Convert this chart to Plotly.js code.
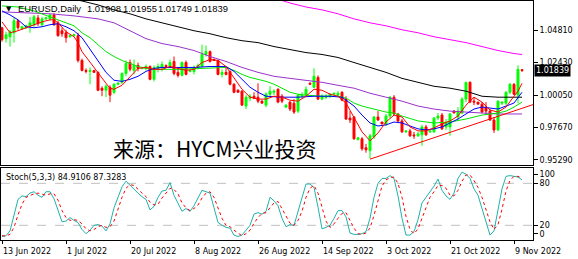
<!DOCTYPE html>
<html>
<head>
<meta charset="utf-8">
<script src="https://cdn.plot.ly/plotly-3.0.1.min.js"></script>
<style>html,body{margin:0;padding:0;background:#fff;}#chart{width:578px;height:259px;}</style>
</head>
<body>
<div id="chart"></div>
<script>
// ---- Daily candles (EURUSD), one per trading bar incl. Sunday bars ----
const open = [1.0498,1.0418,1.0432,1.0461,1.0549,1.0490,1.0498,1.0512,1.0520,1.0570,
1.0520,1.0563,1.0563,1.0592,1.0534,1.0476,1.0461,1.0432,1.0440,1.0440,
1.0258,1.0185,1.0178,1.0185,1.0171,1.0054,1.0040,1.0062,1.0025,1.0084,
1.0098,1.0163,1.0243,1.0185,1.0222,1.0200,1.0200,1.0214,1.0120,1.0200,
1.0207,1.0222,1.0214,1.0251,1.0171,1.0149,1.0243,1.0178,1.0178,1.0207,
1.0214,1.0302,1.0323,1.0265,1.0258,1.0156,1.0171,1.0178,1.0084,1.0040,
1.0033,0.9924,0.9982,0.9996,0.9989,0.9960,0.9931,1.0011,1.0025,1.0047,
0.9996,0.9916,0.9953,0.9945,0.9887,0.9996,1.0004,1.0091,1.0062,1.0134,
0.9975,0.9989,0.9996,1.0011,1.0004,1.0025,0.9975,0.9836,0.9844,0.9677,
0.9684,0.9618,0.9597,0.9698,0.9844,0.9807,0.9793,0.9851,0.9989,0.9866,
0.9815,0.9735,0.9742,0.9713,0.9706,0.9713,0.9771,0.9735,0.9735,0.9836,
0.9858,0.9771,0.9771,0.9887,0.9844,0.9873,0.9975,1.0098,0.9960,0.9953,
0.9938,0.9916,0.9887,0.9822,0.9749,0.9945,0.9945,1.0025,1.0084,1.0004,
1.01908];
const high = [1.0505,1.0469,1.0483,1.0570,1.0556,1.0512,1.0520,1.0578,1.0592,1.0592,
1.0578,1.0578,1.0599,1.0607,1.0549,1.0498,1.0483,1.0447,1.0454,1.0461,
1.0272,1.0200,1.0207,1.0188,1.0178,1.0069,1.0084,1.0076,1.0091,1.0098,
1.0171,1.0258,1.0265,1.0265,1.0243,1.0207,1.0229,1.0222,1.0222,1.0236,
1.0251,1.0229,1.0265,1.0287,1.0207,1.0251,1.0258,1.0193,1.0222,1.0236,
1.0374,1.0367,1.0331,1.0272,1.0265,1.0193,1.0207,1.0185,1.0091,1.0047,
1.0040,1.0004,1.0011,1.0025,1.0091,0.9967,1.0025,1.0069,1.0047,1.0054,
1.0011,0.9938,0.9960,0.9975,1.0011,1.0025,1.0069,1.0098,1.0200,1.0149,
1.0011,1.0011,1.0018,1.0018,1.0033,1.0033,0.9996,0.9887,0.9851,0.9698,
0.9698,0.9647,0.9720,0.9851,0.9887,0.9807,0.9866,0.9996,1.0004,0.9873,
0.9829,0.9742,0.9757,0.9735,0.9735,0.9786,0.9786,0.9742,0.9844,0.9873,
0.9873,0.9829,0.9873,0.9895,0.9916,0.9989,1.0098,1.0105,0.9989,0.9953,
0.9953,0.9953,0.9902,0.9844,0.9967,0.9953,1.0033,1.0091,1.0091,1.0222,
1.01955];
const low = [1.0396,1.0389,1.0360,1.0389,1.0483,1.0483,1.0490,1.0461,1.0505,1.0512,
1.0505,1.0556,1.0549,1.0512,1.0432,1.0432,1.0389,1.0425,1.0432,1.0243,
1.0178,1.0163,1.0084,1.0171,1.0033,0.9996,0.9989,0.9953,1.0011,1.0076,
1.0084,1.0142,1.0178,1.0156,1.0178,1.0193,1.0185,1.0113,1.0105,1.0171,
1.0178,1.0207,1.0207,1.0149,1.0134,1.0142,1.0149,1.0171,1.0156,1.0193,
1.0207,1.0287,1.0243,1.0258,1.0149,1.0134,1.0149,1.0076,1.0018,1.0025,
0.9924,0.9902,0.9960,0.9975,0.9945,0.9945,0.9916,0.9996,1.0004,0.9945,
0.9945,0.9909,0.9887,0.9866,0.9873,0.9982,0.9996,1.0084,1.0054,0.9967,
0.9967,0.9975,0.9982,1.0004,0.9996,0.9960,0.9822,0.9800,0.9677,0.9677,
0.9597,0.9582,0.9538,0.9684,0.9815,0.9793,0.9778,0.9836,0.9858,0.9800,
0.9727,0.9727,0.9698,0.9684,0.9698,0.9633,0.9706,0.9727,0.9727,0.9822,
0.9749,0.9749,0.9706,0.9873,0.9822,0.9866,0.9953,0.9945,0.9931,0.9938,
0.9873,0.9858,0.9815,0.9727,0.9742,0.9931,0.9931,1.0011,1.0004,0.9945,
1.01749];
const close = [1.0411,1.0447,1.0469,1.0549,1.0498,1.0505,1.0512,1.0534,1.0578,1.0527,
1.0563,1.0570,1.0592,1.0520,1.0440,1.0454,1.0425,1.0440,1.0447,1.0258,
1.0185,1.0178,1.0185,1.0171,1.0040,1.0040,1.0069,1.0004,1.0084,1.0091,
1.0163,1.0236,1.0193,1.0222,1.0200,1.0207,1.0214,1.0120,1.0207,1.0214,
1.0229,1.0214,1.0243,1.0163,1.0149,1.0243,1.0156,1.0185,1.0207,1.0222,
1.0302,1.0323,1.0251,1.0258,1.0156,1.0171,1.0156,1.0084,1.0025,1.0025,
0.9931,0.9989,0.9996,0.9982,0.9960,0.9945,1.0011,1.0033,1.0033,0.9953,
0.9960,0.9931,0.9902,0.9880,1.0004,1.0004,1.0047,1.0084,1.0142,0.9975,
0.9996,0.9996,1.0011,1.0018,1.0018,0.9967,0.9829,0.9822,0.9684,0.9691,
0.9611,0.9604,0.9706,0.9844,0.9822,0.9793,0.9851,0.9989,0.9866,0.9815,
0.9735,0.9742,0.9706,0.9706,0.9720,0.9771,0.9713,0.9742,0.9836,0.9851,
0.9757,0.9800,0.9866,0.9873,0.9887,0.9975,1.0098,0.9953,0.9953,0.9938,
0.9880,0.9887,0.9822,0.9749,0.9960,0.9953,1.0025,1.0084,1.0011,1.0193,
1.01839];

// ---- Moving averages, read at sampled bars ----
const maRedBar = [0,2,4,6,8,10,12,13,14,16,18,19,20,22,24,26,27,28,30,32,34,36,38,40,42,44,46,48,50,52,54,56,58,60,62,64,66,68,70,72,74,76,78,80,82,84,86,88,90,92,94,96,98,100,102,104,106,108,110,112,114,116,118,120,122,124,126,128,129,130];
const maRedVal = [1.0541,1.0461,1.0476,1.0498,1.0520,1.0541,1.0556,1.0556,1.0534,1.0469,1.0432,1.0389,1.0323,1.0243,1.0164,1.0091,1.0055,1.0047,1.0076,1.0142,1.0200,1.0207,1.0193,1.0193,1.0214,1.0200,1.0185,1.0193,1.0243,1.0265,1.0258,1.0214,1.0127,1.0047,0.9989,0.9975,0.9975,0.9996,0.9989,0.9967,0.9960,0.9996,1.0047,1.0040,1.0011,0.9996,0.9946,0.9844,0.9735,0.9669,0.9727,0.9807,0.9858,0.9844,0.9771,0.9742,0.9742,0.9764,0.9793,0.9815,0.9851,0.9931,0.9989,0.9953,0.9895,0.9880,0.9917,0.9996,1.0033,1.0091];
const maBlueBar = [0,2,4,6,8,10,12,14,16,18,20,22,24,26,28,30,32,34,36,38,40,44,48,52,56,58,60,62,64,66,70,74,78,82,85,88,90,92,94,96,98,100,102,104,106,108,110,112,114,116,118,120,122,124,126,128,130];
const maBlueVal = [1.0621,1.0592,1.0556,1.0505,1.0498,1.0505,1.0520,1.0527,1.0505,1.0476,1.0425,1.0338,1.0258,1.0171,1.0113,1.0105,1.0120,1.0142,1.0178,1.0200,1.0207,1.0207,1.0207,1.0214,1.0214,1.0178,1.0120,1.0062,1.0025,0.9996,0.9989,0.9989,0.9996,0.9996,0.9989,0.9924,0.9858,0.9800,0.9778,0.9786,0.9807,0.9800,0.9778,0.9757,0.9749,0.9757,0.9771,0.9800,0.9829,0.9866,0.9902,0.9917,0.9909,0.9902,0.9924,0.9946,1.0025];
const maGreenBar = [0,4,8,12,16,18,20,22,24,26,28,30,32,34,36,38,44,50,54,56,58,60,62,64,66,68,70,72,74,76,80,84,86,88,90,92,94,96,98,100,104,108,112,116,120,124,126,128,130];
const maGreenVal = [1.0658,1.0650,1.0621,1.0578,1.0534,1.0512,1.0461,1.0425,1.0374,1.0323,1.0287,1.0258,1.0236,1.0214,1.0200,1.0193,1.0193,1.0200,1.0207,1.0207,1.0185,1.0156,1.0134,1.0120,1.0105,1.0084,1.0055,1.0025,1.0011,1.0004,0.9996,0.9996,0.9982,0.9946,0.9924,0.9909,0.9895,0.9880,0.9873,0.9851,0.9815,0.9800,0.9807,0.9829,0.9858,0.9873,0.9887,0.9916,0.9953];
const maPurpleBar = [0,6,12,18,24,28,32,36,40,44,48,52,56,60,64,68,72,76,80,84,88,92,96,100,104,108,112,116,120,124,128,130];
const maPurpleVal = [1.0614,1.0607,1.0600,1.0585,1.0563,1.0534,1.0476,1.0418,1.0382,1.0360,1.0331,1.0287,1.0251,1.0207,1.0171,1.0142,1.0127,1.0113,1.0098,1.0076,1.0055,1.0018,0.9989,0.9960,0.9924,0.9902,0.9887,0.9880,0.9873,0.9866,0.9866,0.9866];
const maBlackBar = [16,20,24,28,32,36,40,44,48,52,56,60,64,68,72,76,80,84,88,92,96,100,104,108,112,116,120,124,128,130];
const maBlackVal = [1.0723,1.0694,1.0665,1.0629,1.0600,1.0563,1.0534,1.0505,1.0476,1.0454,1.0425,1.0403,1.0389,1.0360,1.0338,1.0316,1.0302,1.0280,1.0243,1.0207,1.0171,1.0127,1.0098,1.0069,1.0055,1.0033,0.9996,0.9989,0.9989,0.9989];
const maMagentaBar = [68,72,76,80,84,88,92,96,100,104,108,112,116,120,124,128,130];
const maMagentaVal = [1.0716,1.0679,1.0650,1.0629,1.0600,1.0563,1.0534,1.0512,1.0483,1.0461,1.0432,1.0411,1.0389,1.0360,1.0331,1.0309,1.0302];

// ---- Support trend line (two anchor points) ----
const trendBar = [92, 133];
const trendVal = [0.9535, 0.9937];

// ---- Stochastic (5,3,3) ----
const stochK = [4,5,12,35,57,62,61,66,68,63,60,68,68,58,40,25,26,31,27,24,
14,8,13,20,21,19,12,22,45,61,75,83,77,71,66,61,57,42,47,60,
69,70,81,63,52,40,44,40,48,60,70,68,66,45,24,20,17,16,6,4,
6,13,20,36,38,36,40,60,55,48,30,18,21,20,40,60,79,79,74,46,
15,17,20,30,41,41,32,9,7,7,8,11,30,60,80,87,87,91,87,62,
30,6,6,11,28,52,60,68,76,86,70,62,57,66,87,96,93,87,72,63,
45,25,6,12,45,72,90,91,90,89,84.9106];
const stochD = [5,5,7,17,35,50,60,63,65,66,64,63,65,65,56,41,31,27,28,27,
22,15,12,14,18,20,17,18,26,43,60,73,78,77,71,66,61,53,49,50,
59,66,73,71,65,52,45,41,44,49,59,66,68,60,45,30,20,18,13,9,
5,8,13,23,31,37,38,45,52,54,44,32,23,20,27,40,60,73,77,66,
45,26,17,22,30,37,38,27,16,8,7,9,16,34,57,76,85,88,89,80,
60,33,14,8,15,30,47,60,68,77,77,73,63,62,70,83,92,92,84,74,
60,44,25,14,21,43,69,84,90,90,87.3283];
const stochLevels = [80, 20];

// ---- Labels ----
const dateTickBars = [0,16,32,48,64,80,96,112,128];
const dateTickText = ['13 Jun 2022','1 Jul 2022','20 Jul 2022','8 Aug 2022','26 Aug 2022','14 Sep 2022','3 Oct 2022','21 Oct 2022','9 Nov 2022'];
const priceTicks = [0.95290, 0.97670, 1.00050, 1.02430, 1.04810];
const priceTickText = ['0.95290','0.97670','1.00050','1.02430','1.04810'];
const stochTickPos = [93.3, 80, 20, 7.6];
const stochTickText = ['100','80','20','0'];
const symbolTitle = 'EURUSD,Daily';
const ohlcValues = ['1.01908', '1.01955', '1.01749', '1.01839'];
const lastPriceText = '1.01839';
const lastPrice = 1.01839;
const stochTitle = 'Stoch(5,3,3) 84.9106 87.3283';
const watermark = '来源：HYCM兴业投资';

const bars = open.map((_, i) => i);
const FONT = 'DejaVu Sans';
const HEAD_FONT = 'Liberation Sans';

function maTrace(xs, ys, color) {
  return {type:'scatter', mode:'lines', x:xs, y:ys, xaxis:'x', yaxis:'y',
    line:{color:color, width:1}, hoverinfo:'skip'};
}

const traces = [
  maTrace(maMagentaBar, maMagentaVal, '#ff00ff'),
  maTrace(maBlackBar, maBlackVal, '#000000'),
  maTrace(maPurpleBar, maPurpleVal, '#9932cc'),
  maTrace(maGreenBar, maGreenVal, '#00e600'),
  maTrace(maBlueBar, maBlueVal, '#0000ff'),
  {type:'candlestick', x:bars, open:open, high:high, low:low, close:close,
   xaxis:'x', yaxis:'y',
   increasing:{line:{color:'#00ff00', width:1}, fillcolor:'#00ff00'},
   decreasing:{line:{color:'#ff0000', width:1}, fillcolor:'#ff0000'},
   whiskerwidth:0, hoverinfo:'skip'},
  maTrace(maRedBar, maRedVal, '#ff0000'),
  maTrace(trendBar, trendVal, '#ff0000'),
  {type:'scatter', mode:'lines', x:bars, y:stochK, xaxis:'x2', yaxis:'y2',
   line:{color:'#20b2aa', width:1}, hoverinfo:'skip'},
  {type:'scatter', mode:'lines', x:bars, y:stochD, xaxis:'x2', yaxis:'y2',
   line:{color:'#ff0000', width:1, dash:'dot'}, hoverinfo:'skip'}
];

const W = 578, H = 259, ML = 1, MR = 45, MT = 1, MB = 19;
const PW = W - ML - MR, PH = H - MT - MB;
const px = v => (v - ML) / PW;
const py = v => (H - MB - v) / PH;

const axisFont = {family: FONT, size: 8, color: '#000'};
const headAnn = (text, left, size) => ({xref:'paper', yref:'paper', x:px(left), y:py(9),
  xanchor:'left', yanchor:'middle', text:text, showarrow:false,
  font:{family:HEAD_FONT, size:size, color:'#000'}});

const layout = {
  width: W, height: H,
  margin: {l: ML, r: MR, t: MT, b: MB, pad: 0},
  paper_bgcolor: '#fff', plot_bgcolor: '#fff',
  showlegend: false,
  xaxis: {domain:[0,1], anchor:'y', range:[-0.25, 132.75], showticklabels:false,
    ticks:'', showgrid:false, zeroline:false, showline:true, mirror:true,
    linecolor:'#000', linewidth:1, rangeslider:{visible:false}, fixedrange:true},
  yaxis: {domain:[py(165), 1], anchor:'x', side:'right', range:[0.94921, 1.06939],
    tickvals: priceTicks, ticktext: priceTickText, ticks:'outside', ticklen:4,
    tickcolor:'#000', tickfont: axisFont, showgrid:false, zeroline:false,
    showline:true, mirror:true, linecolor:'#000', linewidth:1},
  xaxis2: {domain:[0,1], anchor:'y2', range:[-0.25, 132.75],
    tickvals: dateTickBars, ticktext: dateTickText, ticks:'outside', ticklen:3,
    tickcolor:'#000', tickfont: axisFont, ticklabelposition:'outside right',
    ticklabelstandoff: 3,
    showgrid:false, zeroline:false, showline:true, mirror:true,
    linecolor:'#000', linewidth:1},
  yaxis2: {domain:[0, py(168)], anchor:'x2', side:'right', range:[-1, 101.9],
    tickvals: stochTickPos, ticktext: stochTickText, ticks:'outside', ticklen:4,
    tickcolor:'#000', tickfont: axisFont, showgrid:false, zeroline:false,
    showline:true, mirror:true, linecolor:'#000', linewidth:1},
  shapes: stochLevels.map(v => ({type:'line', xref:'paper', x0:0, x1:1,
    yref:'y2', y0:v, y1:v, layer:'below',
    line:{color:'#c0c0c0', width:1, dash:'dash'}})),
  annotations: [
    {xref:'paper', yref:'paper', x:px(4), y:py(9), xanchor:'left', yanchor:'middle',
     text:'▼', showarrow:false, font:{family:FONT, size:7, color:'#000'}},
    headAnn(symbolTitle, 16, 9.4),
    headAnn(ohlcValues[0], 85, 9.4),
    headAnn(ohlcValues[1], 120.5, 9.4),
    headAnn(ohlcValues[2], 156, 9.4),
    headAnn(ohlcValues[3], 191.5, 9.4),
    {xref:'paper', yref:'paper', x:px(4), y:py(177.5), xanchor:'left', yanchor:'middle',
     text:stochTitle, showarrow:false, font:{family:FONT, size:8, color:'#000'}},
    {xref:'paper', yref:'paper', x:px(215), y:py(148), xanchor:'center', yanchor:'middle',
     text:watermark, showarrow:false, font:{family:'Noto Sans CJK SC', size:21, color:'#000'}},
    {xref:'paper', yref:'y', x:1, y:lastPrice, xanchor:'left', yanchor:'middle', xshift:1,
     text:lastPriceText, showarrow:false, bgcolor:'#000', borderpad:1,
     font:{family:FONT, size:8, color:'#fff'}}
  ]
};

Plotly.newPlot('chart', traces, layout, {staticPlot:true, displayModeBar:false});
</script>
</body>
</html>
